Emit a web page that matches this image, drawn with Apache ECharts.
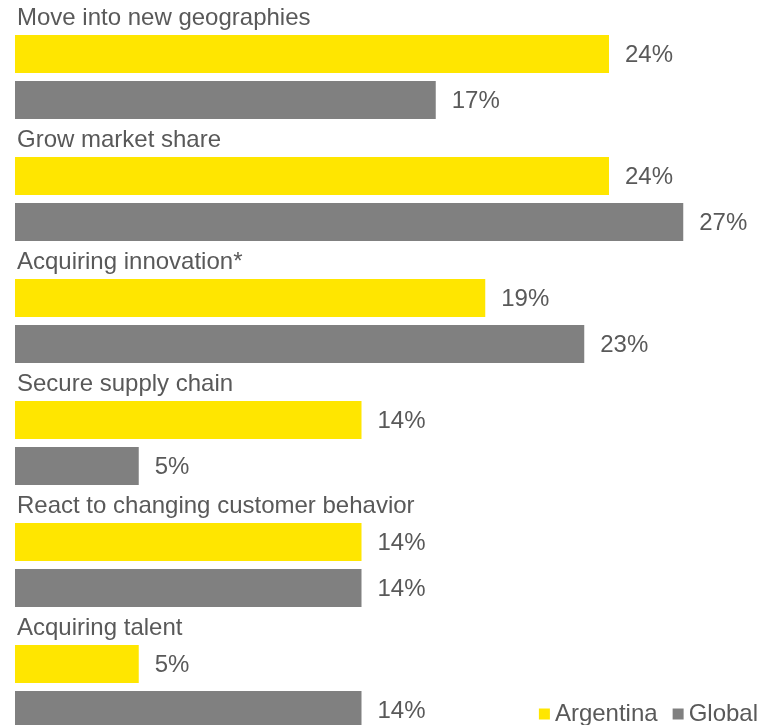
<!DOCTYPE html>
<html>
<head>
<meta charset="utf-8">
<script src="https://cdn.jsdelivr.net/npm/echarts@6/dist/echarts.min.js"></script>
<style>
  html, body { margin: 0; padding: 0; background: #ffffff; }
  #chart { width: 760px; height: 725px; }
</style>
</head>
<body>
<div id="chart"></div>
<script>
// Reasons for pursuing acquisitions, share of respondents (%)
const categories = [
  'Move into new geographies',
  'Grow market share',
  'Acquiring innovation*',
  'Secure supply chain',
  'React to changing customer behavior',
  'Acquiring talent'
];
const argentina = [24, 24, 19, 14, 14, 5];
const global = [17, 27, 23, 5, 14, 14];
const seriesNames = ['Argentina', 'Global'];

const textColor = '#595959';
const fontFamily = '"Liberation Sans", Arial, Helvetica, sans-serif';

const chart = echarts.init(document.getElementById('chart'), null, { renderer: 'canvas' });

const valueLabel = {
  show: true,
  position: 'right',
  distance: 16,
  offset: [0, 1],
  formatter: '{c}%',
  color: textColor,
  fontSize: 24,
  fontFamily: fontFamily
};

chart.setOption({
  animation: false,
  backgroundColor: '#ffffff',
  // the grid runs past the bottom edge so the last bar is cut off
  grid: {
    left: 15, top: 16, width: 742.5, height: 732,
    containLabel: false,
    outerBoundsMode: 'none'
  },
  xAxis: {
    type: 'value',
    min: 0,
    max: 30,
    show: false
  },
  yAxis: {
    type: 'category',
    data: categories,
    inverse: true,
    axisLine: { show: false },
    axisTick: { show: false },
    splitLine: { show: false },
    axisLabel: {
      inside: true,
      interval: 0,
      showMinLabel: true,
      showMaxLabel: true,
      margin: 2,
      align: 'left',
      verticalAlign: 'middle',
      // a blank second line lifts the title above its pair of bars
      formatter: function (v) { return v + '\n '; },
      color: textColor,
      fontSize: 24,
      lineHeight: 117,
      fontFamily: fontFamily
    }
  },
  legend: {
    data: seriesNames,
    right: -3,
    top: 697,
    itemWidth: 11,
    itemHeight: 11,
    itemGap: 15,
    icon: 'rect',
    textStyle: { color: textColor, fontSize: 24, fontFamily: fontFamily }
  },
  series: [
    {
      name: seriesNames[0],
      type: 'bar',
      data: argentina,
      barWidth: 38,
      barGap: '21%',
      itemStyle: { color: '#FFE600' },
      label: valueLabel
    },
    {
      name: seriesNames[1],
      type: 'bar',
      data: global,
      barWidth: 38,
      barGap: '21%',
      itemStyle: { color: '#808080' },
      label: valueLabel
    }
  ]
});
</script>
</body>
</html>
